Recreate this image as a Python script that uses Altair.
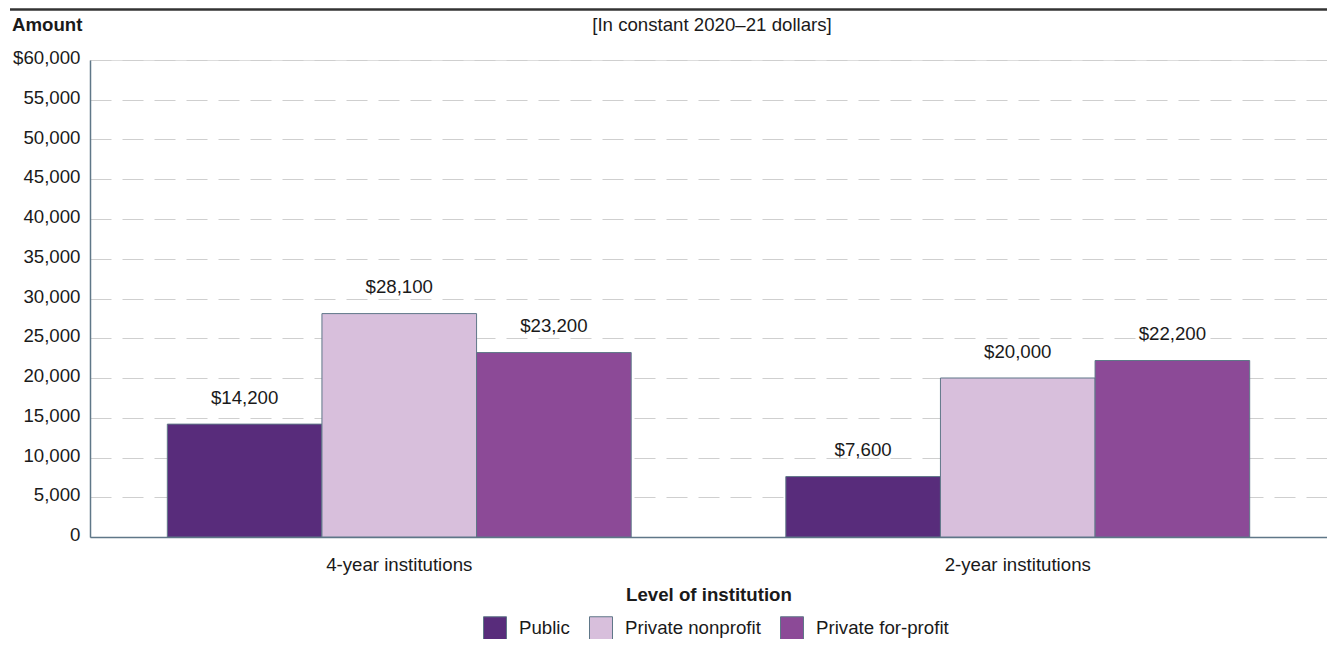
import altair as alt
import pandas as pd

levels = ["4-year institutions", "2-year institutions"]
sectors = ["Public", "Private nonprofit", "Private for-profit"]
values_4yr = [14200, 28100, 23200]
values_2yr = [7600, 20000, 22200]
y_ticks = list(range(0, 60001, 5000))
subtitle = "[In constant 2020\u201321 dollars]"
y_title = "Amount"
x_title = "Level of institution"

colors = ["#582c7b", "#d8bfdc", "#8c4a97"]
STROKE = "#5f7788"
FONT = "Liberation Sans"
FS = 18.67
TXT = "#1a1a1a"

rows = []
for lvl, vals in zip(levels, [values_4yr, values_2yr]):
    for s, v in zip(sectors, vals):
        rows.append({"level": lvl, "sector": s, "amount": v})
df = pd.DataFrame(rows)

W, H = 1237, 477

x_enc = alt.X(
    "level:N", sort=levels,
    scale=alt.Scale(paddingInner=0.25, paddingOuter=0.125),
    axis=alt.Axis(
        title=x_title, labelAngle=0, ticks=False, tickSize=0,
        labelPadding=33.7, labelBaseline="alphabetic",
        labelFontSize=FS, labelColor=TXT, labelFont=FONT,
        titleFontSize=FS, titleFontWeight="bold", titleColor=TXT, titleFont=FONT,
        titleBaseline="alphabetic", titleY=63,
        domainColor=STROKE, domainWidth=1.5, grid=False,
    ),
)
xo_enc = alt.XOffset("sector:N", sort=sectors, scale=alt.Scale(paddingInner=0, paddingOuter=0))
y_enc = alt.Y(
    "amount:Q",
    scale=alt.Scale(domain=[0, 60000], nice=False),
    axis=alt.Axis(
        values=y_ticks, labelOverlap=False, tickCount=40,
        labelExpr="datum.value == 60000 ? '$60,000' : format(datum.value, ',')",
        ticks=False, tickSize=0, labelPadding=10,
        labelBaseline="alphabetic", labelOffset=3.5,
        labelFontSize=FS, labelColor=TXT, labelFont=FONT,
        title=y_title, titleAngle=0, titleAlign="left", titleBaseline="alphabetic",
        titleX=-78.5, titleY=-29.3, titleFontSize=FS, titleFontWeight="bold",
        titleColor=TXT, titleFont=FONT,
        domainColor=STROKE, domainWidth=1.5,
        grid=True, gridDash=[21, 11], gridColor="#cfcfcf", gridWidth=1,
    ),
)

bars = alt.Chart(df).mark_bar(stroke=STROKE, strokeWidth=1, opacity=1).encode(
    x=x_enc, xOffset=xo_enc, y=y_enc,
    color=alt.Color(
        "sector:N", sort=sectors,
        scale=alt.Scale(domain=sectors, range=colors),
        legend=alt.Legend(
            title=None, orient="none", legendX=393, legendY=556,
            direction="horizontal", symbolType="square", symbolSize=529,
            symbolStrokeColor=STROKE, symbolStrokeWidth=1, symbolOpacity=1,
            labelFontSize=FS, labelFont=FONT, labelColor=TXT,
            labelOffset=12, columnPadding=17, padding=0,
        ),
    ),
)

labels = alt.Chart(df).mark_text(
    dy=-20.5, baseline="alphabetic", fontSize=FS, font=FONT, color=TXT
).encode(
    x=x_enc, xOffset=xo_enc, y=y_enc,
    text=alt.Text("amount:Q", format="$,.0f"),
)

sub = alt.Chart(pd.DataFrame({"t": [subtitle]})).mark_text(
    fontSize=FS, font=FONT, color=TXT, baseline="alphabetic", align="center"
).encode(x=alt.value(622), y=alt.value(-29.3), text="t:N")

top_rule = alt.Chart(pd.DataFrame({"a": [0]})).mark_rule(
    color="#333333", strokeWidth=2.5
).encode(x=alt.value(-80), x2=alt.value(W), y=alt.value(-50.5))

chart = alt.layer(bars, labels, sub, top_rule).properties(
    width=W, height=H,
    autosize=alt.AutoSizeParams(type="none"),
    padding={"left": 82, "top": 52, "right": 0, "bottom": 102},
).configure_view(stroke=None).configure(font=FONT)

chart.save("out.html", embed_options={"renderer": "svg", "actions": False})
